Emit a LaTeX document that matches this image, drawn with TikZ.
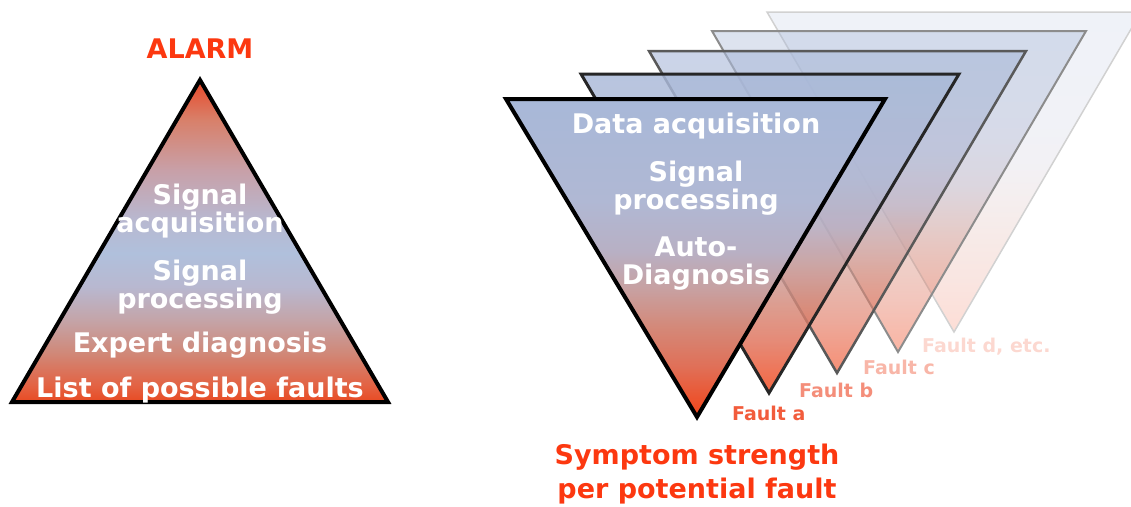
\documentclass[tikz,border=0pt]{standalone}
\usepackage{fontspec}
\setmainfont{DejaVu Sans}
\usetikzlibrary{positioning}
\definecolor{alarmred}{RGB}{252,56,16}
\definecolor{faultA}{RGB}{242,92,60}
\definecolor{faultB}{RGB}{244,142,122}
\definecolor{faultC}{RGB}{248,182,168}
\definecolor{faultD}{RGB}{252,216,208}
% colours of the pyramid shading
\definecolor{pyrA}{RGB}{232,74,34}
\definecolor{pyrB}{RGB}{228,96,64}
\definecolor{pyrC}{RGB}{208,136,120}
\definecolor{pyrD}{RGB}{196,164,168}
\definecolor{pyrE}{RGB}{184,184,208}
\definecolor{pyrF}{RGB}{176,192,220}
\definecolor{pyrG}{RGB}{200,160,168}
\definecolor{pyrH}{RGB}{216,128,106}
\definecolor{pyrI}{RGB}{232,72,40}
% colours of the fault shading
\definecolor{symA}{RGB}{242,68,24}
\definecolor{symB}{RGB}{224,112,88}
\definecolor{symC}{RGB}{212,136,120}
\definecolor{symD}{RGB}{200,160,160}
\definecolor{symE}{RGB}{184,176,196}
\definecolor{symF}{RGB}{176,184,212}
\definecolor{symG}{RGB}{168,184,216}
\pgfdeclareverticalshading{alarmshade}{100bp}{color(0bp)=(pyrA); color(25bp)=(pyrA);
  color(27.3bp)=(pyrB); color(32.6bp)=(pyrC); color(37.7bp)=(pyrD); color(42.9bp)=(pyrE);
  color(48.1bp)=(pyrF); color(53.3bp)=(pyrE); color(61bp)=(pyrG); color(68.8bp)=(pyrH);
  color(75bp)=(pyrI); color(100bp)=(pyrI)}
\pgfdeclareverticalshading{faultshade}{100bp}{color(0bp)=(symA); color(25bp)=(symA);
  color(33bp)=(symB); color(39bp)=(symC); color(45bp)=(symD); color(51bp)=(symE);
  color(59bp)=(symF); color(75bp)=(symG); color(100bp)=(symG)}
\tikzset{
  inside/.style={text=white, font=\bfseries\fontsize{27}{28}\selectfont, align=center, inner sep=0pt, anchor=base},
  headline/.style={text=alarmred, font=\bfseries\fontsize{27}{34}\selectfont, align=center, inner sep=0pt, anchor=base},
  faultlabel/.style={font=\bfseries\fontsize{19}{21}\selectfont, inner sep=0pt, anchor=base west},
}

\begin{document}
\begin{tikzpicture}[x=1pt, y=-1pt]
  \useasboundingbox (0,0) rectangle (1131,506);

  % Left pyramid
  \shadedraw[shading=alarmshade, line width=4pt] (12,402) -- (200,80) -- (388,402) -- cycle;
  \node[headline] (alarm) at (200,58) {ALARM};
  \node[inside] (sigacq) at (200,232) {Signal\\acquisition};
  \node[inside] (sigproc) at (200,308) {Signal\\processing};
  \node[inside] (expert) at (200,352) {Expert diagnosis};
  \node[inside] (faults) at (200,397) {List of possible faults};

  % Stack of fault triangles, back to front
  \shadedraw[shading=faultshade, fill opacity=0.18, draw=black!18, line width=1.5pt] (767,12) -- (1141,12) -- (954,332) -- cycle;
  \shadedraw[shading=faultshade, fill opacity=0.4, draw=black!45, line width=2pt] (712,31) -- (1086,31) -- (898,352) -- cycle;
  \shadedraw[shading=faultshade, fill opacity=0.6, draw=black!65, line width=2.5pt] (649,51) -- (1026,51) -- (837,373) -- cycle;
  \shadedraw[shading=faultshade, fill opacity=0.82, draw=black!85, line width=3pt] (581,74) -- (959,74) -- (769,393) -- cycle;

  % Front triangle
  \shadedraw[shading=faultshade, line width=4pt] (506,99) -- (885,99) -- (697,417) -- cycle;
  \node[inside] (dataacq) at (696,133) {Data acquisition};
  \node[inside] (signal) at (696,209) {Signal\\processing};
  \node[inside] (autodiag) at (696,284) {Auto-\\Diagnosis};

  % Fault labels
  \node[faultlabel, text=faultA] (fa) at (732,420) {Fault a};
  \node[faultlabel, text=faultB] (fb) at (799,397) {Fault b};
  \node[faultlabel, text=faultC] (fc) at (863,374) {Fault c};
  \node[faultlabel, text=faultD] (fd) at (922,352) {Fault d, etc.};

  \node[headline] (symptom) at (697,498) {Symptom strength\\per potential fault};
\end{tikzpicture}
\end{document}
